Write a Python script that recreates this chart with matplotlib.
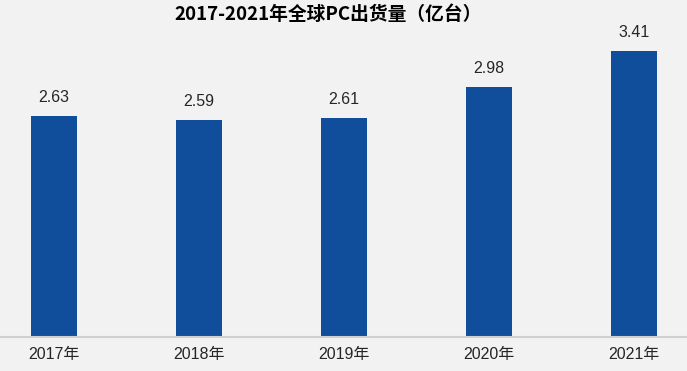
import matplotlib
matplotlib.use("Agg")
import matplotlib.pyplot as plt

years = ["2017年", "2018年", "2019年", "2020年", "2021年"]
shipments = [2.63, 2.59, 2.61, 2.98, 3.41]
title = "2017-2021年全球PC出货量（亿台）"

W, H = 687, 371
fig = plt.figure(figsize=(W / 100, H / 100), dpi=100)
bg = "#F2F2F2"
fig.patch.set_facecolor(bg)

base_px = 337
ax = fig.add_axes([0, (H - base_px) / H, 1, base_px / H])
ax.set_facecolor(bg)

x = list(range(len(years)))
ax.bar(x, shipments, width=0.317, color="#104E9C", zorder=2)

px_per_unit_x = 145.0
center0 = 54.0
ax.set_xlim(-center0 / px_per_unit_x, (W - center0) / px_per_unit_x)
px_per_unit_y = 286.0 / 3.41
ax.set_ylim(0, base_px / px_per_unit_y)

for xi, v in zip(x, shipments):
    ax.annotate(f"{v:.2f}", (xi, v), xytext=(0, 8), textcoords="offset points",
                ha="center", va="bottom", fontsize=11.5, color="#262626",
                family=["Liberation Sans", "DejaVu Sans"])

for s in ["top", "left", "right"]:
    ax.spines[s].set_visible(False)
ax.spines["bottom"].set_color("#D0D0D0")
ax.spines["bottom"].set_linewidth(1.5)
ax.set_yticks([])
ax.set_xticks(x)
ax.set_xticklabels(years, fontsize=11.5, color="#262626",
                   family=["Liberation Sans", "Noto Sans CJK SC"])
ax.tick_params(axis="x", length=0, pad=7)

fig.text(328 / W, 1 - 14 / H, title, ha="center", va="center", fontsize=13.5,
         fontweight="bold", color="#000000",
         family=["Noto Sans CJK SC", "DejaVu Sans"])

fig.savefig("out.png", dpi=100, facecolor=bg)
